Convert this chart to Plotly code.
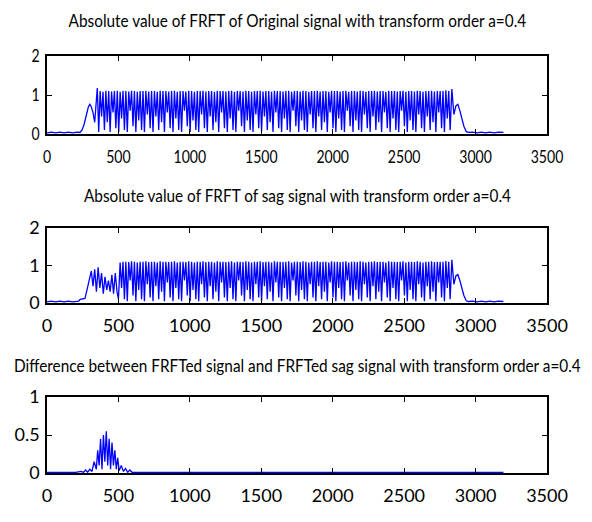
import plotly.graph_objects as go

# ---------------- data ----------------
titles = [
    "Absolute value of FRFT of Original signal with transform order a=0.4",
    "Absolute value of FRFT of sag signal with transform order a=0.4",
    "Difference between FRFTed signal and FRFTed sag signal with transform order a=0.4",
]
x_ticks = [0, 500, 1000, 1500, 2000, 2500, 3000, 3500]
y_ticks_12 = [0, 1, 2]
y_ticks_3 = [0, 0.5, 1]

# original signal: lead-in (flat + rise + bump)
orig_head_x = [0, 30, 60, 90, 120, 150, 180, 210, 230, 245, 260, 275, 290, 300, 310, 322, 334]
orig_head_y = [0.03, 0.05, 0.03, 0.05, 0.03, 0.05, 0.03, 0.05, 0.04, 0.1, 0.25, 0.5, 0.7, 0.76, 0.7, 0.55, 0.3]

# oscillating plateau: peaks and troughs (one per half cycle)
plateau_x0 = 352
plateau_step = 10
plateau_highs = [
    1.18, 1.1, 1.08, 1.11, 1.1, 1.09, 1.1, 1.11, 1.08, 1.1,
    1.1, 1.09, 1.11, 1.1, 1.08, 1.1, 1.1, 1.11, 1.09, 1.1,
    1.1, 1.08, 1.11, 1.1, 1.1, 1.09, 1.1, 1.11, 1.08, 1.1,
    1.1, 1.09, 1.11, 1.1, 1.08, 1.1, 1.1, 1.11, 1.09, 1.1,
    1.1, 1.08, 1.11, 1.1, 1.1, 1.09, 1.1, 1.11, 1.08, 1.1,
    1.1, 1.09, 1.11, 1.1, 1.08, 1.1, 1.1, 1.11, 1.09, 1.1,
    1.1, 1.08, 1.11, 1.1, 1.1, 1.09, 1.1, 1.11, 1.08, 1.1,
    1.1, 1.09, 1.11, 1.1, 1.08, 1.1, 1.1, 1.11, 1.09, 1.1,
    1.1, 1.08, 1.11, 1.1, 1.1, 1.09, 1.1, 1.11, 1.08, 1.1,
    1.1, 1.09, 1.11, 1.1, 1.08, 1.1, 1.1, 1.11, 1.09, 1.1,
    1.1, 1.08, 1.11, 1.1, 1.1, 1.09, 1.1, 1.11, 1.08, 1.1,
    1.1, 1.09, 1.11, 1.1, 1.08, 1.1, 1.1, 1.11, 1.09, 1.1,
    1.1, 1.1, 1.12, 1.1,
]
plateau_lows = [
    0.05, 0.45, 0.1, 0.3, 0.05, 0.55, 0.15, 0.05, 0.4, 0.1,
    0.05, 0.6, 0.2, 0.05, 0.35, 0.1, 0.05, 0.5, 0.15, 0.05,
    0.45, 0.1, 0.3, 0.05, 0.55, 0.15, 0.05, 0.4, 0.1, 0.05,
    0.6, 0.2, 0.05, 0.35, 0.1, 0.05, 0.5, 0.15, 0.05, 0.45,
    0.1, 0.3, 0.05, 0.55, 0.15, 0.05, 0.4, 0.1, 0.05, 0.6,
    0.2, 0.05, 0.35, 0.1, 0.05, 0.5, 0.15, 0.05, 0.45, 0.1,
    0.3, 0.05, 0.55, 0.15, 0.05, 0.4, 0.1, 0.05, 0.6, 0.2,
    0.05, 0.35, 0.1, 0.05, 0.5, 0.15, 0.05, 0.45, 0.1, 0.3,
    0.05, 0.55, 0.15, 0.05, 0.4, 0.1, 0.05, 0.6, 0.2, 0.05,
    0.35, 0.1, 0.05, 0.5, 0.15, 0.05, 0.45, 0.1, 0.3, 0.05,
    0.55, 0.15, 0.05, 0.4, 0.1, 0.05, 0.6, 0.2, 0.05, 0.35,
    0.1, 0.05, 0.5, 0.15, 0.05, 0.45, 0.1, 0.3, 0.05, 0.55,
    0.15, 0.05, 0.4, 0.1,
]

# original signal: tail (last peak, bump, decay, flat)
orig_tail_x = [2834, 2848, 2862, 2876, 2890, 2904, 2918, 2935, 2950, 2980, 3010, 3040, 3070, 3100, 3130, 3160, 3195]
orig_tail_y = [1.15, 0.5, 0.72, 0.76, 0.6, 0.4, 0.2, 0.06, 0.04, 0.05, 0.03, 0.05, 0.03, 0.05, 0.03, 0.05, 0.04]

# sag signal: lead-in up to the point where it rejoins the original
sag_head_x = [0, 30, 60, 90, 120, 150, 180, 210, 222, 232, 250, 266, 280, 295, 310, 322, 334, 346,
              358, 370, 382, 394, 406, 418, 430, 442, 454, 466, 478, 490, 500]
sag_head_y = [0.03, 0.05, 0.03, 0.05, 0.03, 0.05, 0.03, 0.05, 0.05, 0.1, 0.11, 0.12, 0.35, 0.65,
              0.85, 0.45, 0.9, 0.3, 0.95, 0.4, 0.8, 0.25, 0.7, 0.35, 0.6, 0.3, 0.75, 0.25, 0.8,
              0.3, 0.1]
sag_rejoin_x = 512

# difference signal
diff_x = [0, 100, 200, 240, 255, 270, 285, 300, 315, 330, 345, 355, 365, 375, 385, 395, 405,
          415, 425, 435, 445, 455, 465, 475, 485, 495, 505, 520, 535, 550, 565, 580, 595, 620,
          1000, 2000, 3195]
diff_y = [0.008, 0.008, 0.008, 0.02, 0.008, 0.04, 0.01, 0.05, 0.02, 0.15, 0.05, 0.3, 0.1, 0.45,
          0.05, 0.5, 0.15, 0.55, 0.1, 0.45, 0.05, 0.4, 0.1, 0.3, 0.05, 0.2, 0.03, 0.1, 0.02,
          0.06, 0.01, 0.04, 0.01, 0.008, 0.008, 0.008, 0.008]

# ---------------- assemble series ----------------
plat_y = []
for h, l in zip(plateau_highs, plateau_lows):
    plat_y += [h, l]
plat_x = [plateau_x0 + plateau_step * i for i in range(len(plat_y))]

orig_x = orig_head_x + plat_x + orig_tail_x
orig_y = orig_head_y + plat_y + orig_tail_y

k = next(i for i, v in enumerate(plat_x) if v >= sag_rejoin_x)
sag_x = sag_head_x + plat_x[k:] + orig_tail_x
sag_y = sag_head_y + plat_y[k:] + orig_tail_y

# ---------------- figure ----------------
W, H = 592, 522
FONT = "Lato, Roboto, sans-serif"
BLUE = "#0000ff"

fig = go.Figure()
series = [(orig_x, orig_y), (sag_x, sag_y), (diff_x, diff_y)]
axes = ["", "2", "3"]
for (xs, ys), a in zip(series, axes):
    fig.add_trace(go.Scatter(x=xs, y=ys, mode="lines",
                             line=dict(color=BLUE, width=1.3),
                             xaxis="x" + a, yaxis="y" + a, showlegend=False,
                             hoverinfo="skip"))

# pixel boxes (top, bottom) for each axis
left_px, right_px = 47, 547
boxes = [(56, 134), (228, 303), (397, 473)]
title_y = [20, 195, 365]

def py(p):
    return 1 - p / H

common_x = dict(range=[0, 3500], tickvals=x_ticks, ticks="inside", ticklen=5,
                tickwidth=1.2, tickcolor="black", showline=True, linecolor="black",
                linewidth=1.6, mirror="ticks", showgrid=False, zeroline=False,
                automargin=False, ticklabelstandoff=6,
                tickfont=dict(family=FONT, size=18, color="black"),
                domain=[left_px / W, right_px / W])
common_y = dict(ticks="inside", ticklen=5, tickwidth=1.2, tickcolor="black",
                showline=True, linecolor="black", linewidth=1.6, mirror="ticks",
                showgrid=False, zeroline=False, automargin=False, ticklabelstandoff=2,
                tickfont=dict(family=FONT, size=18, color="black"))

layout = dict(template="none", width=W, height=H, margin=dict(l=0, r=0, t=0, b=0),
              paper_bgcolor="white", plot_bgcolor="white", showlegend=False)
for i, a in enumerate(axes):
    top, bot = boxes[i]
    yt = y_ticks_3 if i == 2 else y_ticks_12
    layout["xaxis" + a] = dict(common_x, anchor="y" + a)
    layout["yaxis" + a] = dict(common_y, anchor="x" + a, range=[yt[0], yt[-1]],
                               tickvals=yt, ticktext=[("%g" % v) for v in yt],
                               domain=[py(bot), py(top)])
fig.update_layout(**layout)

for i, t in enumerate(titles):
    fig.add_annotation(text=t, x=(left_px + right_px) / 2 / W, y=py(title_y[i]),
                       xref="paper", yref="paper", showarrow=False,
                       xanchor="center", yanchor="middle",
                       font=dict(family=FONT, size=18, color="black"))

# horizontally condense the text (the reference uses a narrow typeface)
post = """
(function(){
  var gd = document.getElementById('{plot_id}');
  function squeeze(sel, s, anchorRight){
    gd.querySelectorAll(sel).forEach(function(t){
      var b = t.getBBox();
      var cx = anchorRight ? (b.x + b.width) : (b.x + b.width / 2);
      var tr = t.getAttribute('transform') || '';
      t.setAttribute('transform', tr + ' translate(' + cx + ',0) scale(' + s + ',1) translate(' + (-cx) + ',0)');
    });
  }
  squeeze('.annotation-text', 0.853, false);
  squeeze('.xtick text', 0.78, false);
  squeeze('.ytick text', 0.78, true);
})();
"""
fig.write_html("out.html", post_script=post)
